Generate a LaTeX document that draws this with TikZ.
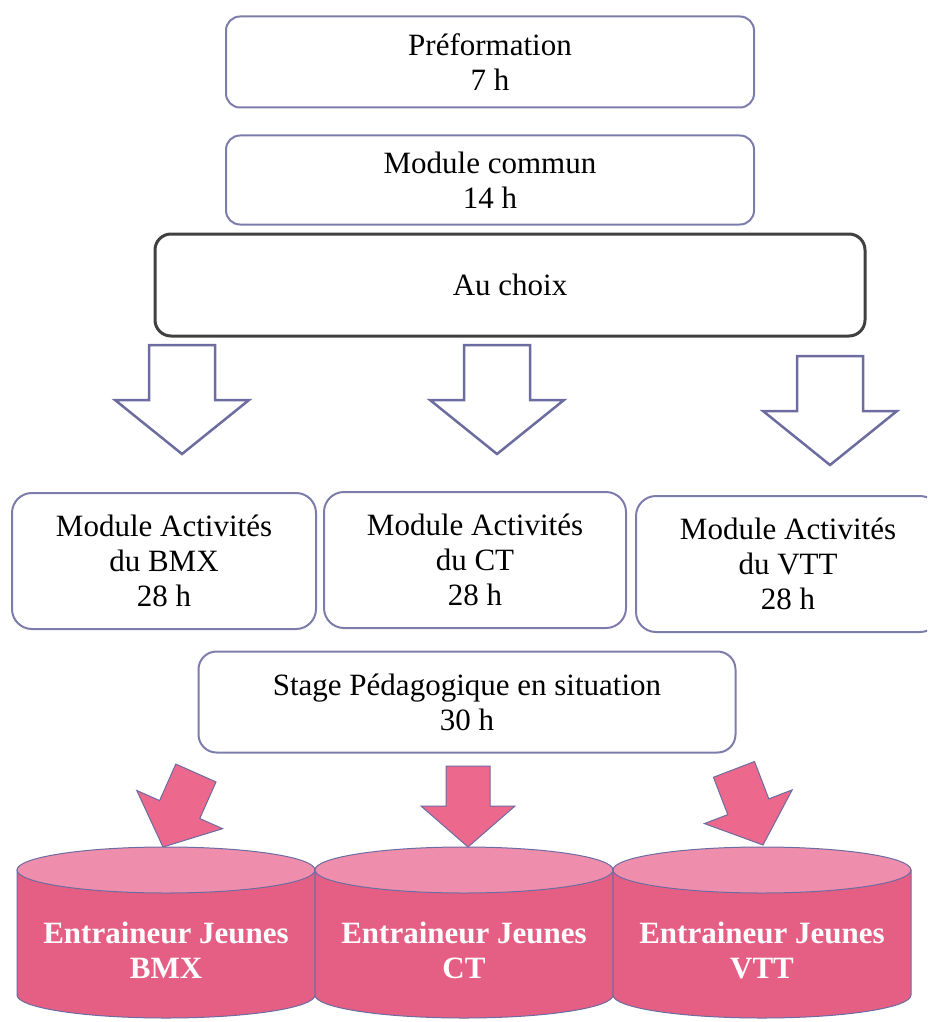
\documentclass[tikz,border=0pt]{standalone}
\usepackage{fontspec}
\setmainfont{Liberation Serif}
\definecolor{cadre}{RGB}{125,125,172}
\definecolor{fleche}{RGB}{108,108,160}
\definecolor{rose}{RGB}{229,95,132}
\definecolor{rosepale}{RGB}{239,142,172}
\definecolor{rosevif}{RGB}{236,104,140}
\tikzset{
  box/.style={draw=cadre, line width=2pt, rounded corners=14pt, align=center,
    font=\fontsize{31}{35}\selectfont, inner sep=0pt},
  modbox/.style={box, rounded corners=20pt, minimum height=136},
  jeune/.style={text=white, align=center, font=\bfseries\fontsize{31}{35}\selectfont}
}
\begin{document}
\begin{tikzpicture}[x=1pt,y=-1pt]
\clip (0,0) rectangle (927,1022);
\node[box, minimum width=528, minimum height=91] (pref) at (490,62) {Préformation\\7 h};
\node[box, minimum width=528, minimum height=89] (commun) at (490,180) {Module commun\\14 h};
\node[box, draw=black!75, line width=3pt, rounded corners=16pt,
      minimum width=710, minimum height=102] (choix) at (510,285) {Au choix};
\foreach \cx/\ty in {182/345, 497/345, 830/356}
  \draw[fleche, line width=2.5pt] (\cx-33,\ty) -- (\cx+33,\ty) -- (\cx+33,\ty+55)
    -- (\cx+67,\ty+55) -- (\cx,\ty+109) -- (\cx-67,\ty+55) -- (\cx-33,\ty+55) -- cycle;
\node[modbox, minimum width=304] (bmx) at (164,561) {Module Activités\\du BMX\\28 h};
\node[modbox, minimum width=302] (ct) at (475,560) {Module Activités\\du CT\\28 h};
\node[modbox, minimum width=304] (vtt) at (788,564) {Module Activités\\du VTT\\28 h};
\node[box, rounded corners=18pt, minimum width=537, minimum height=101] (stage) at (467,702)
  {Stage Pédagogique en situation\\30 h};
\foreach \tx/\ty/\a in {163/847/-24, 468/847/0, 763/845/21}
  \draw[fleche, line width=1pt, fill=rosevif, shift={(\tx,\ty)}, rotate=\a]
    (-22,-81) -- (22,-81) -- (22,-41) -- (47,-41) -- (0,0) -- (-47,-41) -- (-22,-41) -- cycle;
\foreach \cx/\nom/\txt in {166/jbmx/BMX, 464/jct/CT, 762/jvtt/VTT} {
  \filldraw[fill=rose, draw=fleche, line width=1pt] (\cx-149,870) -- (\cx-149,995)
    arc[start angle=180, end angle=360, x radius=149pt, y radius=23pt] -- (\cx+149,870) -- cycle;
  \filldraw[fill=rosepale, draw=fleche, line width=1pt] (\cx,870) ellipse[x radius=149pt, y radius=23pt];
  \node[jeune] (\nom) at (\cx,950) {Entraineur Jeunes\\\txt};
}
\end{tikzpicture}
\end{document}
